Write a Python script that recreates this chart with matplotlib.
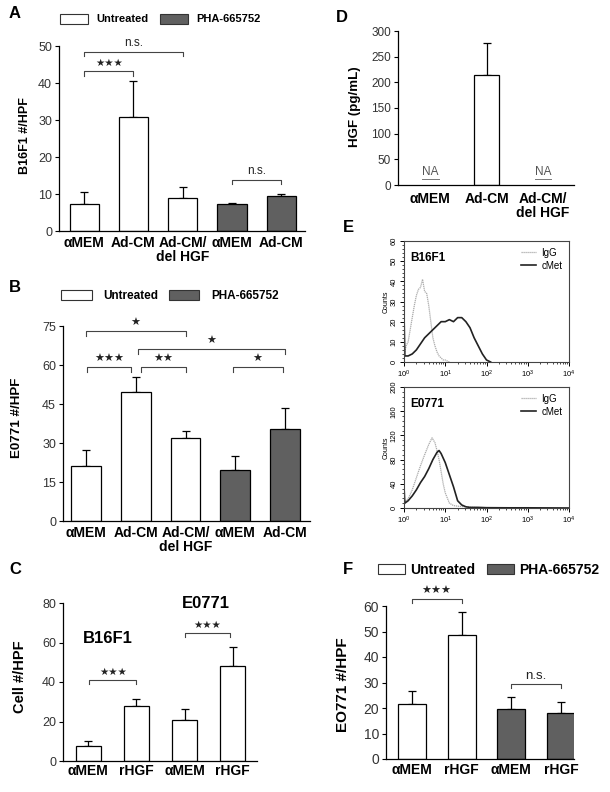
import numpy as np
import matplotlib
matplotlib.use("Agg")
import matplotlib.pyplot as plt
from matplotlib.patches import Patch
from matplotlib.ticker import AutoMinorLocator, LogLocator, NullFormatter

plt.rcParams['font.family'] = ['Liberation Sans', 'DejaVu Sans']

# ---- data ----
a_labels = ["αMEM", "Ad-CM", "Ad-CM/\ndel HGF", "αMEM", "Ad-CM"]
a_vals = [7.3, 30.7, 8.8, 7.3, 9.4]
a_errs = [3.2, 9.8, 3.1, 0.3, 0.5]
a_treated = [False, False, False, True, True]

b_labels = ["αMEM", "Ad-CM", "Ad-CM/\ndel HGF", "αMEM", "Ad-CM"]
b_vals = [21.0, 49.8, 31.8, 19.5, 35.5]
b_errs = [6.2, 5.4, 2.8, 5.5, 7.8]
b_treated = [False, False, False, True, True]

c_labels = ["αMEM", "rHGF", "αMEM", "rHGF"]
c_vals = [7.5, 28.0, 21.0, 48.2]
c_errs = [2.8, 3.6, 5.3, 9.3]

d_labels = ["αMEM", "Ad-CM", "Ad-CM/\ndel HGF"]
d_vals = [np.nan, 215, np.nan]
d_errs = [0, 61, 0]

f_labels = ["αMEM", "rHGF", "αMEM", "rHGF"]
f_vals = [21.5, 48.8, 19.5, 18.2]
f_errs = [5.1, 8.8, 4.7, 4.2]
f_treated = [False, False, True, True]

# flow cytometry histograms (log10 intensity, counts)
e1_igg_x = [0.00, 0.05, 0.10, 0.15, 0.20, 0.25, 0.30, 0.35, 0.40, 0.45, 0.50, 0.55,
            0.60, 0.65, 0.70, 0.75, 0.80, 0.85, 0.90, 0.95, 1.00, 1.05, 1.10]
e1_igg_y = [3, 8, 10, 16, 22, 28, 33, 36, 37, 41, 35, 34,
            28, 20, 12, 8, 5, 3, 2, 1, 1, 0.5, 0]
e1_met_x = [0.00, 0.00, 0.02, 0.10, 0.20, 0.30, 0.40, 0.50, 0.60, 0.70, 0.80, 0.90,
            1.00, 1.10, 1.20, 1.30, 1.40, 1.50, 1.60, 1.70, 1.80, 1.90, 2.00, 2.10]
e1_met_y = [0, 24, 3, 3, 4, 6, 9, 12, 14, 16, 18, 20,
            20, 21, 20, 22, 22, 20, 17, 12, 8, 4, 1, 0]
e2_igg_x = [0.00, 0.10, 0.20, 0.30, 0.40, 0.50, 0.60, 0.68, 0.75, 0.80, 0.85, 0.90,
            0.95, 1.00, 1.10, 1.20, 1.30, 1.50, 1.70, 2.00]
e2_igg_y = [10, 15, 30, 50, 70, 88, 105, 116, 108, 95, 80, 60,
            40, 25, 8, 4, 3, 2, 1, 0]
e2_met_x = [0.00, 0.00, 0.02, 0.10, 0.20, 0.30, 0.40, 0.50, 0.60, 0.70, 0.80, 0.85,
            0.90, 1.00, 1.10, 1.20, 1.30, 1.40, 1.50, 1.60, 1.80, 2.00, 2.50, 3.00, 4.00]
e2_met_y = [0, 35, 8, 12, 20, 30, 42, 52, 65, 80, 92, 95,
            90, 75, 55, 35, 12, 5, 2, 1, 1, 0.5, 0.3, 0.3, 0]

W, H = 610, 792
WHITE, GREY = "white", "#606060"

fig = plt.figure(figsize=(W / 100, H / 100), dpi=100)


def px_axes(x0, y0, x1, y1):
    return fig.add_axes([x0 / W, 1 - y1 / H, (x1 - x0) / W, (y1 - y0) / H])


def style_bar_axes(ax, ticks, labels, xlim, ylim, yticks, lab_fs=10, tick_fs=9, pad=3.5):
    ax.set_xlim(*xlim)
    ax.set_ylim(*ylim)
    ax.set_yticks(yticks)
    ax.set_xticks(ticks)
    ax.set_xticklabels(labels, fontweight="bold", fontsize=lab_fs, linespacing=1.0)
    ax.tick_params(axis="x", length=0, pad=pad)
    ax.tick_params(axis="y", length=3, width=0.8, labelsize=tick_fs, labelcolor="#333333", pad=2)
    for s in ["top", "right"]:
        ax.spines[s].set_visible(False)
    for s in ["left", "bottom"]:
        ax.spines[s].set_linewidth(0.9)


def bars(ax, vals, errs, colors, width):
    x = np.arange(len(vals))
    ax.bar(x, vals, width=width, color=colors, edgecolor="black", linewidth=0.9, zorder=2)
    ax.errorbar(x, vals, yerr=[np.zeros(len(errs)), errs], fmt="none", ecolor="black",
                elinewidth=0.9, capsize=3, capthick=0.9, zorder=1)
    return x


def bracket(ax, x0, x1, y, h, text, fs=9, gap=0.0):
    # gap: distance of the label centre above the bracket line
    ax.plot([x0, x0, x1, x1], [y - h, y, y, y - h], color="#444444", lw=0.8, clip_on=False)
    ax.text((x0 + x1) / 2, y + gap, text, ha="center", va="center", fontsize=fs,
            color="#222222", clip_on=False)


def stars(n):
    return "\u2605" * n


def legend(x, y, fs, hl, hh, tp, cs):
    handles = [Patch(facecolor=WHITE, edgecolor="#333333", linewidth=0.8),
               Patch(facecolor=GREY, edgecolor="#333333", linewidth=0.8)]
    fig.legend(handles, ["Untreated", "PHA-665752"], loc="center left",
               bbox_to_anchor=(x / W, 1 - y / H), ncol=2, frameon=False,
               prop={"weight": "bold", "size": fs}, handlelength=hl, handleheight=hh,
               handletextpad=tp, columnspacing=cs, borderpad=0, borderaxespad=0)


def letter(x, y, s):
    fig.text(x / W, 1 - y / H, s, fontsize=12, fontweight="bold", ha="left", va="center")


def ylab(x, y, s, fs):
    fig.text(x / W, 1 - y / H, s, fontsize=fs, fontweight="bold", rotation=90,
             ha="center", va="center")


# ---- A ----
axA = px_axes(59, 46, 305, 231)
xa = bars(axA, a_vals, a_errs, [GREY if t else WHITE for t in a_treated], 0.59)
style_bar_axes(axA, xa, a_labels, (-0.51, 4.48), (0, 50), range(0, 51, 10))
bracket(axA, 0, 2, 48.4, 1.2, "n.s.", fs=8.5, gap=2.3)
bracket(axA, 0, 1, 43.2, 1.2, stars(3), fs=7.5, gap=2.3)
bracket(axA, 3, 4, 13.8, 1.2, "n.s.", fs=8.5, gap=2.3)
letter(9, 13, "A")
ylab(25, 136, "B16F1 #/HPF", 9)
legend(60, 19, 8, 2.5, 1.05, 0.8, 1.0)

# ---- B ----
axB = px_axes(63, 326, 310, 521)
xb = bars(axB, b_vals, b_errs, [GREY if t else WHITE for t in b_treated], 0.6)
style_bar_axes(axB, xb, b_labels, (-0.46, 4.5), (0, 75), range(0, 76, 15))
bracket(axB, 0.0, 2.0, 73, 1.8, stars(1), fs=8, gap=3.1)
bracket(axB, 1.05, 4.0, 66, 1.8, stars(1), fs=8, gap=3.1)
bracket(axB, 0.02, 0.9, 59.2, 1.8, stars(3), fs=8, gap=3.1)
bracket(axB, 1.1, 2.0, 59.2, 1.8, stars(2), fs=8, gap=3.1)
bracket(axB, 2.95, 3.95, 59.2, 1.8, stars(1), fs=8, gap=3.1)
letter(9, 288, "B")
ylab(17, 418, "E0771 #/HPF", 9.6)
legend(61, 296, 8.5, 2.6, 1.0, 1.0, 0.85)

# ---- C ----
axC = px_axes(63, 603, 257, 761)
xc = bars(axC, c_vals, c_errs, [WHITE] * 4, 0.52)
style_bar_axes(axC, xc, c_labels, (-0.52, 3.5), (0, 80), range(0, 81, 20), pad=2.5)
bracket(axC, 0.02, 1.0, 41, 2.2, stars(3), fs=7.5, gap=4)
bracket(axC, 2.0, 2.95, 64.8, 2.2, stars(3), fs=7.5, gap=4)
axC.text(0.4, 61.8, "B16F1", fontsize=12, fontweight="bold", ha="center", va="center")
axC.text(2.45, 79.5, "E0771", fontsize=12, fontweight="bold", ha="center", va="center")
letter(9, 569, "C")
ylab(20, 677, "Cell #/HPF", 10.5)

# ---- D ----
axD = px_axes(398, 31, 574, 185)
xd = np.arange(len(d_vals))
axD.bar(xd, d_vals, width=0.44, color=WHITE, edgecolor="black", linewidth=0.9, zorder=2)
axD.errorbar(xd, d_vals, yerr=[np.zeros(3), d_errs], fmt="none", ecolor="black",
             elinewidth=0.9, capsize=3, capthick=0.9, zorder=1)
style_bar_axes(axD, xd, d_labels, (-0.57, 2.55), (0, 300), range(0, 301, 50), tick_fs=8.5, pad=5)
for i, v in enumerate(d_vals):
    if np.isnan(v):
        axD.text(i, 14, "NA", ha="center", va="bottom", fontsize=8.5, color="#555555")
        axD.plot([i - 0.15, i + 0.15], [12, 12], color="#777777", lw=0.7)
letter(336, 17, "D")
ylab(355, 107, "HGF (pg/mL)", 9.6)


# ---- E ----
def flow(ax, ix, iy, mx, my, ymax, ystep, name):
    ax.plot(10 ** np.array(ix), iy, color="#aaaaaa", lw=0.9, ls=(0, (1, 0.6)), label="IgG")
    ax.plot(10 ** np.array(mx), my, color="#222222", lw=1.2, label="cMet")
    ax.set_xscale("log")
    ax.set_xlim(1, 1e4)
    ax.set_ylim(0, ymax)
    ax.set_yticks(np.arange(0, ymax + 1, ystep))
    ax.yaxis.set_minor_locator(AutoMinorLocator(5))
    ax.xaxis.set_minor_locator(LogLocator(subs=np.arange(2, 10), numticks=20))
    ax.xaxis.set_minor_formatter(NullFormatter())
    ax.tick_params(axis="both", which="major", length=3, width=0.7, labelsize=5.5, pad=1.5)
    ax.tick_params(axis="both", which="minor", length=1.5, width=0.5)
    ax.tick_params(axis="y", labelrotation=90)
    for lab in ax.get_yticklabels():
        lab.set_va("center")
    for s in ax.spines.values():
        s.set_linewidth(0.8)
        s.set_color("#444444")
    ax.set_ylabel("Counts", fontsize=5, labelpad=1)
    ax.text(0.04, 0.86, name, transform=ax.transAxes, fontsize=8.5, fontweight="bold",
            ha="left", va="center")
    ax.legend(loc="upper right", frameon=False, fontsize=7, handlelength=1.6,
              handletextpad=0.5, labelspacing=0.3, borderaxespad=0.3)


axE1 = px_axes(404, 241, 569, 362)
flow(axE1, e1_igg_x, e1_igg_y, e1_met_x, e1_met_y, 60, 10, "B16F1")
axE2 = px_axes(404, 387, 569, 508)
flow(axE2, e2_igg_x, e2_igg_y, e2_met_x, e2_met_y, 200, 40, "E0771")
letter(343, 228, "E")

# ---- F ----
axF = px_axes(386, 606, 574, 759)
xf = bars(axF, f_vals, f_errs, [GREY if t else WHITE for t in f_treated], 0.56)
style_bar_axes(axF, xf, f_labels, (-0.52, 3.26), (0, 60), range(0, 61, 10), tick_fs=10, pad=3)
bracket(axF, 0.0, 1.0, 62.7, 1.6, stars(3), fs=8, gap=3.1)
bracket(axF, 2.0, 3.0, 29.4, 1.6, "n.s.", fs=9.5, gap=3.1)
letter(343, 569, "F")
ylab(343, 685, "EO771 #/HPF", 11)
legend(378, 570, 10, 1.95, 0.65, 0.36, 0.86)

fig.savefig("out.png", dpi=100)
